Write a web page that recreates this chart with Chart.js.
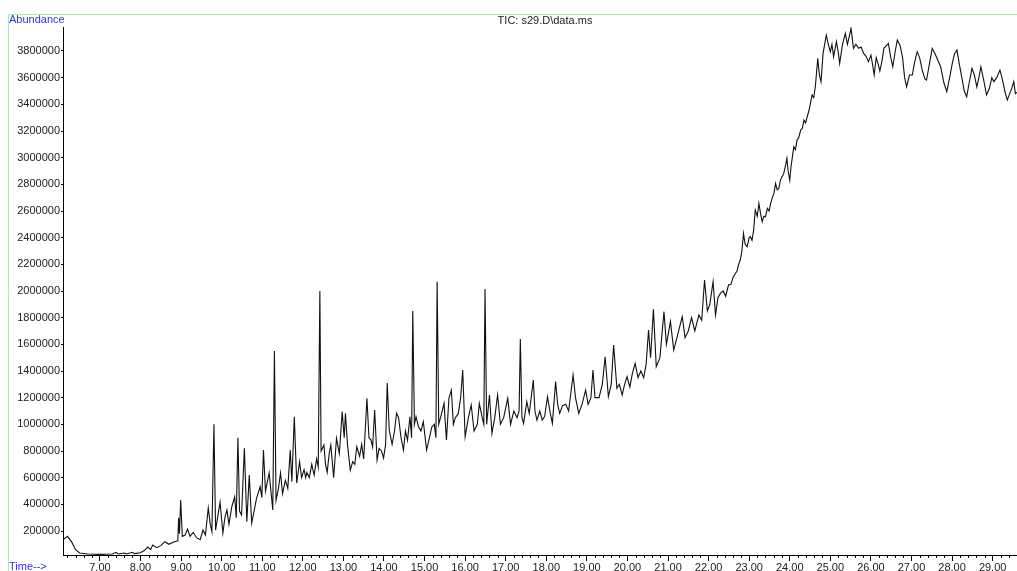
<!DOCTYPE html>
<html lang="en">
<head>
<meta charset="UTF-8">
<title>TIC: s29.D\data.ms</title>
<script src="https://cdn.jsdelivr.net/npm/chart.js"></script>
<style>
    body { margin: 0; background: #fff; }
    canvas { display: block; }
</style>
</head>
<body>
<canvas id="tic" width="1017" height="571"></canvas>
<script>
// retention time (min)
const times = [
    6.09, 6.2, 6.3, 6.4, 6.5, 6.7, 7.0, 7.3, 7.4, 7.45,
    7.6, 7.65, 7.8, 7.85, 8.0, 8.1, 8.18, 8.25, 8.3, 8.4,
    8.5, 8.6, 8.7, 8.8, 8.9, 8.92, 8.94, 8.96, 8.99, 9.03,
    9.1, 9.16, 9.22, 9.3, 9.38, 9.47, 9.54, 9.6, 9.67, 9.72,
    9.76, 9.81, 9.85, 9.96, 10.03, 10.08, 10.13, 10.18, 10.25, 10.32,
    10.36, 10.4, 10.44, 10.49, 10.56, 10.62, 10.68, 10.74, 10.8, 10.86,
    10.95, 10.99, 11.03, 11.08, 11.17, 11.26, 11.3, 11.34, 11.4, 11.45,
    11.5, 11.57, 11.63, 11.69, 11.73, 11.79, 11.85, 11.92, 11.97, 12.03,
    12.07, 12.1, 12.16, 12.22, 12.28, 12.34, 12.38, 12.42, 12.45, 12.52,
    12.56, 12.6, 12.65, 12.69, 12.76, 12.83, 12.9, 12.97, 13.02, 13.05,
    13.1, 13.17, 13.23, 13.28, 13.33, 13.4, 13.45, 13.5, 13.58, 13.63,
    13.68, 13.72, 13.77, 13.83, 13.88, 13.94, 13.99, 14.04, 14.08, 14.13,
    14.2, 14.26, 14.31, 14.36, 14.42, 14.48, 14.53, 14.58, 14.64, 14.68,
    14.71, 14.75, 14.79, 14.85, 14.91, 14.97, 15.05, 15.12, 15.18, 15.24,
    15.28, 15.31, 15.35, 15.42, 15.48, 15.54, 15.6, 15.66, 15.71, 15.76,
    15.83, 15.89, 15.94, 16.0, 16.08, 16.15, 16.22, 16.3, 16.35, 16.42,
    16.46, 16.49, 16.53, 16.6, 16.66, 16.73, 16.8, 16.87, 16.95, 17.05,
    17.12, 17.2, 17.28, 17.33, 17.36, 17.4, 17.44, 17.52, 17.58, 17.68,
    17.72, 17.77, 17.84, 17.9, 17.96, 18.03, 18.1, 18.15, 18.23, 18.28,
    18.33, 18.4, 18.48, 18.55, 18.66, 18.72, 18.8, 18.88, 18.97, 19.03,
    19.1, 19.15, 19.2, 19.3, 19.38, 19.45, 19.53, 19.6, 19.66, 19.74,
    19.8, 19.87, 19.93, 19.99, 20.06, 20.12, 20.19, 20.26, 20.33, 20.4,
    20.46, 20.52, 20.57, 20.64, 20.71, 20.8, 20.9, 20.96, 21.06, 21.14,
    21.22, 21.35, 21.42, 21.5, 21.58, 21.66, 21.76, 21.83, 21.9, 21.97,
    22.03, 22.11, 22.17, 22.23, 22.29, 22.36, 22.42, 22.49, 22.55, 22.61,
    22.7, 22.74, 22.78, 22.82, 22.86, 22.9, 22.95, 23.0, 23.03, 23.07,
    23.11, 23.15, 23.2, 23.24, 23.28, 23.32, 23.36, 23.4, 23.45, 23.49,
    23.53, 23.57, 23.61, 23.65, 23.69, 23.73, 23.77, 23.81, 23.85, 23.89,
    23.93, 23.96, 24.0, 24.03, 24.06, 24.1, 24.14, 24.18, 24.22, 24.27,
    24.31, 24.35, 24.39, 24.43, 24.47, 24.51, 24.55, 24.59, 24.63, 24.69,
    24.73, 24.77, 24.82, 24.86, 24.9, 24.95, 25.0, 25.04, 25.08, 25.15,
    25.2, 25.23, 25.3, 25.37, 25.42, 25.46, 25.51, 25.57, 25.63, 25.7,
    25.76, 25.82, 25.88, 25.94, 26.0, 26.04, 26.08, 26.13, 26.18, 26.22,
    26.27, 26.32, 26.43, 26.49, 26.54, 26.6, 26.65, 26.72, 26.78, 26.83,
    26.88, 26.95, 27.02, 27.08, 27.14, 27.2, 27.27, 27.33, 27.37, 27.44,
    27.51, 27.58, 27.65, 27.72, 27.8, 27.87, 27.94, 28.0, 28.06, 28.12,
    28.18, 28.24, 28.3, 28.36, 28.42, 28.49, 28.55, 28.61, 28.66, 28.71,
    28.78, 28.85, 28.92, 28.98, 29.03, 29.1, 29.18, 29.23, 29.3, 29.36,
    29.42, 29.47, 29.52, 29.56, 29.6
];

// total ion current
const abundance = [
    135000, 160000, 120000, 60000, 35000, 28000, 25000, 27000, 40000, 28000,
    35000, 28000, 40000, 30000, 37000, 55000, 80000, 60000, 95000, 75000,
    90000, 120000, 100000, 115000, 125000, 130000, 300000, 180000, 432000, 160000,
    170000, 215000, 160000, 190000, 150000, 135000, 207000, 170000, 372000, 250000,
    195000, 1000000, 207000, 417000, 185000, 300000, 357000, 250000, 382000, 457000,
    300000, 900000, 350000, 320000, 820000, 270000, 620000, 260000, 350000, 447000,
    532000, 450000, 807000, 500000, 635000, 357000, 1550000, 430000, 520000, 635000,
    480000, 580000, 520000, 807000, 570000, 1057000, 560000, 720000, 600000, 660000,
    600000, 640000, 600000, 700000, 620000, 740000, 680000, 2000000, 800000, 845000,
    700000, 640000, 780000, 845000, 600000, 895000, 780000, 1095000, 900000, 1082000,
    850000, 657000, 720000, 700000, 832000, 760000, 850000, 740000, 1195000, 900000,
    882000, 830000, 1107000, 732000, 820000, 800000, 747000, 850000, 1310000, 957000,
    850000, 950000, 1085000, 1050000, 900000, 807000, 950000, 880000, 1057000, 900000,
    1850000, 1000000, 1057000, 982000, 950000, 1020000, 807000, 900000, 980000, 1000000,
    900000, 2070000, 1000000, 1082000, 1157000, 882000, 1195000, 1257000, 1000000, 1050000,
    1080000, 1200000, 1407000, 907000, 1050000, 1145000, 950000, 1000000, 1157000, 1050000,
    1000000, 2015000, 1000000, 1220000, 932000, 1050000, 1220000, 1000000, 1050000, 1195000,
    1000000, 1100000, 1050000, 1100000, 1640000, 1050000, 1007000, 1170000, 1080000, 1332000,
    1100000, 1032000, 1100000, 1032000, 1060000, 1207000, 1080000, 1007000, 1320000, 1150000,
    1082000, 1140000, 1150000, 1100000, 1370000, 1200000, 1082000, 1150000, 1257000, 1150000,
    1200000, 1407000, 1200000, 1200000, 1300000, 1507000, 1207000, 1300000, 1595000, 1270000,
    1300000, 1220000, 1300000, 1357000, 1280000, 1380000, 1457000, 1350000, 1400000, 1350000,
    1450000, 1707000, 1500000, 1862000, 1432000, 1500000, 1845000, 1600000, 1770000, 1557000,
    1650000, 1807000, 1650000, 1700000, 1800000, 1700000, 1820000, 1780000, 2082000, 1850000,
    1900000, 2070000, 1820000, 1950000, 1982000, 2000000, 1960000, 2045000, 2050000, 2107000,
    2150000, 2200000, 2232000, 2300000, 2432000, 2350000, 2332000, 2400000, 2407000, 2380000,
    2457000, 2607000, 2560000, 2657000, 2580000, 2520000, 2560000, 2557000, 2620000, 2600000,
    2657000, 2700000, 2732000, 2807000, 2760000, 2770000, 2830000, 2857000, 2880000, 2932000,
    2995000, 2900000, 2832000, 2930000, 2995000, 3082000, 3060000, 3132000, 3150000, 3207000,
    3220000, 3282000, 3260000, 3307000, 3350000, 3407000, 3470000, 3450000, 3532000, 3745000,
    3620000, 3570000, 3780000, 3850000, 3920000, 3850000, 3795000, 3850000, 3757000, 3870000,
    3780000, 3707000, 3850000, 3932000, 3850000, 3900000, 3970000, 3820000, 3850000, 3820000,
    3830000, 3782000, 3760000, 3720000, 3770000, 3700000, 3620000, 3750000, 3700000, 3650000,
    3720000, 3820000, 3857000, 3750000, 3682000, 3800000, 3882000, 3840000, 3750000, 3600000,
    3532000, 3620000, 3620000, 3720000, 3795000, 3750000, 3650000, 3590000, 3582000, 3700000,
    3820000, 3780000, 3730000, 3680000, 3560000, 3495000, 3600000, 3700000, 3780000, 3807000,
    3700000, 3600000, 3500000, 3457000, 3560000, 3670000, 3620000, 3530000, 3600000, 3682000,
    3580000, 3470000, 3520000, 3600000, 3570000, 3600000, 3657000, 3600000, 3500000, 3432000,
    3480000, 3520000, 3570000, 3480000, 3490000
];

const xTicks = [7, 8, 9, 10, 11, 12, 13, 14, 15, 16, 17, 18, 19, 20, 21, 22, 23, 24, 25, 26, 27, 28, 29];
const yTicks = [200000, 400000, 600000, 800000, 1000000, 1200000, 1400000, 1600000, 1800000, 2000000,
    2200000, 2400000, 2600000, 2800000, 3000000, 3200000, 3400000, 3600000, 3800000];

const titleText = 'TIC: s29.D\\data.ms';
const font = 'Liberation Sans, Arial, sans-serif';

// frame, header texts and the small 0.2 min ticks
const decor = {
    id: 'decor',
    afterDraw(chart) {
        const ctx = chart.ctx;
        const xs = chart.scales.x;
        ctx.save();
        ctx.strokeStyle = '#a6f0a6';
        ctx.lineWidth = 1;
        ctx.beginPath();
        ctx.moveTo(8, 14.5); ctx.lineTo(1017, 14.5);
        ctx.moveTo(8.5, 14); ctx.lineTo(8.5, 571);
        ctx.stroke();

        ctx.strokeStyle = '#000';
        ctx.beginPath();
        for (let i = 31; i <= 148; i++) {
            if (i % 5 === 0) continue;
            const px = Math.round(xs.getPixelForValue(i / 5)) + 0.5;
            ctx.moveTo(px, xs.top);
            ctx.lineTo(px, xs.top + 3);
        }
        ctx.stroke();

        ctx.font = '11px ' + font;
        ctx.textBaseline = 'middle';
        ctx.fillStyle = '#222';
        ctx.textAlign = 'center';
        ctx.fillText(titleText, 545, 21);
        ctx.fillStyle = '#2f2fff';
        ctx.textAlign = 'left';
        ctx.fillText('Abundance', 9, 20);
        ctx.fillText('Time-->', 9, 567);
        ctx.restore();
    }
};

new Chart(document.getElementById('tic'), {
    type: 'line',
    data: {
        datasets: [{
            data: times.map((t, i) => ({ x: t, y: abundance[i] })),
            borderColor: '#111',
            borderWidth: 1.1,
            pointRadius: 0,
            tension: 0,
            fill: false
        }]
    },
    options: {
        responsive: false,
        animation: false,
        devicePixelRatio: 1,
        layout: { padding: { left: 8, top: 27, right: 0, bottom: 0 } },
        plugins: { legend: { display: false }, tooltip: { enabled: false } },
        scales: {
            x: {
                type: 'linear',
                min: 6.09,
                max: 29.6,
                afterBuildTicks: s => { s.ticks = xTicks.map(v => ({ value: v })); },
                afterFit: s => { s.height = 16; },
                ticks: {
                    autoSkip: false,
                    maxRotation: 0,
                    padding: 0,
                    color: '#222',
                    font: { family: font, size: 11 },
                    callback: v => v.toFixed(2)
                },
                grid: { drawOnChartArea: false, tickLength: 6, color: '#000' },
                border: { color: '#000', width: 1 }
            },
            y: {
                min: 20000,
                max: 3980000,
                afterBuildTicks: s => { s.ticks = yTicks.map(v => ({ value: v })); },
                afterFit: s => { s.width = 55; },
                ticks: {
                    autoSkip: false,
                    padding: 1,
                    color: '#222',
                    font: { family: font, size: 11 },
                    callback: v => String(v)
                },
                grid: { drawOnChartArea: false, tickLength: 2, color: '#000' },
                border: { color: '#000', width: 1 }
            }
        }
    },
    plugins: [decor]
});
</script>
</body>
</html>
